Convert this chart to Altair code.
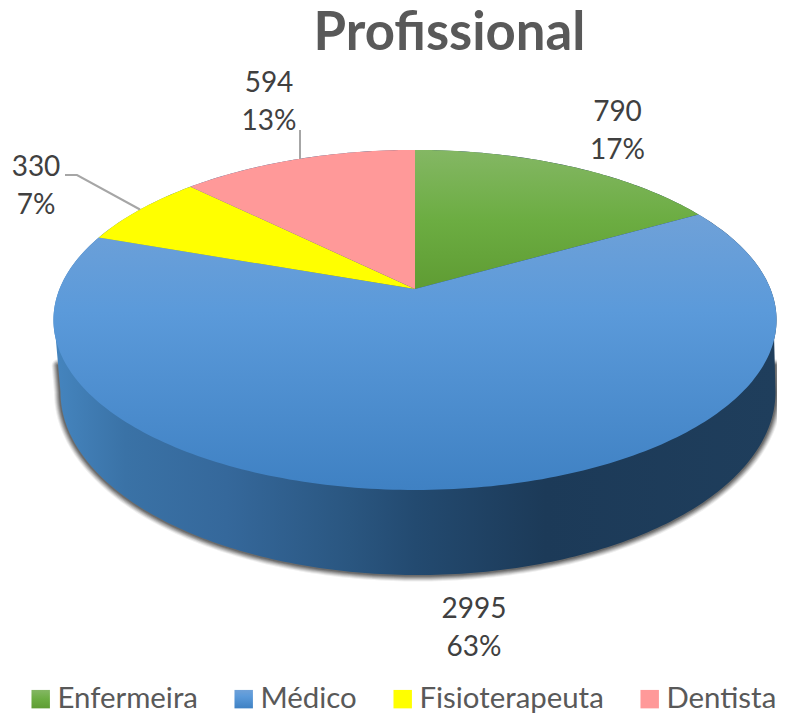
import math
import altair as alt

# ---- data ----
names = ["Enfermeira", "Médico", "Fisioterapeuta", "Dentista"]
values = [790, 2995, 330, 594]
percents = ["17%", "63%", "7%", "13%"]

# ---- styling ----
TEXT = "#404040"
FONT = "Lato"


def grad(stops, horizontal=False):
    s = ",".join("{offset:%s,color:'%s'}" % (o, c) for o, c in stops)
    return alt.expr("{gradient:'linear',x1:0,y1:0,x2:0,y2:1,stops:[%s]}" % s)


ranges = [
    grad([(0, "#84b764"), (0.5, "#6cad42"), (1, "#5f9c33")]),
    grad([(0, "#6fa1d8"), (0.35, "#5b9ada"), (1, "#3f81c3")]),
    "#ffff00",
    "#ff9999",
]
wall_fill = {
    "gradient": "linear", "x1": 0, "y1": 0, "x2": 1, "y2": 0,
    "stops": [
        {"offset": 0, "color": "#4585bf"},
        {"offset": 0.10, "color": "#3a72a6"},
        {"offset": 0.24, "color": "#35689b"},
        {"offset": 0.41, "color": "#2a5680"},
        {"offset": 0.50, "color": "#234a70"},
        {"offset": 0.68, "color": "#1c3a58"},
        {"offset": 1, "color": "#1f3e5c"},
    ],
}

# ---- tilted-disc view (perspective of the 3-D pie) ----
CX, CY, A, B, K = 415.0, 289.0, 355.5, 164.4, 0.182
BOT_CX, BOT_CY, BOT_A, BOT_B = 418.0, 392.0, 357.5, 183.0


def top_pt(frac):
    ang = 2 * math.pi * frac
    X, Y = math.sin(ang), math.cos(ang)
    d = 1 + K * Y
    return [CX + A * X / d, CY - B * Y / d]


def feature(name, kind, coords):
    return {"type": "Feature", "properties": {"name": name},
            "geometry": {"type": kind, "coordinates": coords}}


def collection(features):
    return alt.InlineData(values={"type": "FeatureCollection", "features": features},
                          format=alt.DataFormat(property="features", type="json"))


total = sum(values)
wedges = []
cum = 0.0
for n, v in zip(names, values):
    a, b = cum / total, (cum + v) / total
    steps = max(8, int((b - a) * 360))
    ring = [[CX, CY]] + [top_pt(a + (b - a) * i / steps) for i in range(steps + 1)] + [[CX, CY]]
    wedges.append(feature(n, "Polygon", [ring]))
    cum += v

bottom_curve = []
for i in range(181):
    t = math.pi * i / 180
    bottom_curve.append([BOT_CX - BOT_A * math.cos(t), BOT_CY + BOT_B * math.sin(t)])
upper_outline = [top_pt(0.297 - 0.594 * i / 200) for i in range(201)]
# wall silhouette: lower rim of the base, then back round the top disc
wall_ring = bottom_curve + upper_outline
wall_ring = wall_ring + [wall_ring[0]]


def midway(p, q):
    return [(p[0] + q[0]) / 2, (p[1] + q[1]) / 2]


shadow_line = ([midway(top_pt(0.703), bottom_curve[0])] + bottom_curve
               + [midway(top_pt(0.297), bottom_curve[-1])])

proj = dict(type="identity", scale=1, translate=[-8, -8])

layers = []
for w, op in [(13, 0.08), (11, 0.12), (9, 0.16), (7, 0.2), (5, 0.25), (3, 0.3)]:
    layers.append(
        alt.Chart(collection([feature("shadow", "LineString", shadow_line)]))
        .mark_geoshape(filled=False, stroke="#333333", strokeWidth=w, strokeOpacity=op,
                       strokeCap="round")
        .project(**proj)
    )
layers.append(
    alt.Chart(collection([feature("wall", "Polygon", [wall_ring])]))
    .mark_geoshape(fill=wall_fill, stroke=None)
    .project(**proj)
)
layers.append(
    alt.Chart(collection(wedges))
    .mark_geoshape()
    .encode(
        color=alt.Color(
            "properties.name:N",
            scale=alt.Scale(domain=names, range=ranges),
            sort=names,
            legend=alt.Legend(
                title=None, orient="none", legendX=18, legendY=676, direction="horizontal",
                columns=4, symbolType="square", symbolSize=340, symbolStrokeWidth=0,
                labelFont=FONT, labelFontSize=29.4, labelColor="#595959", labelLimit=300,
                columnPadding=31, labelOffset=2, padding=0,
            ),
        )
    )
    .project(**proj)
)
leaders = [
    feature("Fisioterapeuta", "LineString", [[65, 175], [77, 175], [140, 209.5]]),
    feature("Dentista", "LineString", [[300, 130], [300, 159]]),
]
layers.append(
    alt.Chart(collection(leaders))
    .mark_geoshape(filled=False, stroke="#a6a6a6", strokeWidth=2)
    .project(**proj)
)
label_rows = []
for n, v, p, (lx, ly1, ly2) in zip(names, values, percents,
                                   [(617.5, 121, 159), (474, 618, 656), (36, 176, 214), (269, 92, 130)]):
    label_rows.append({"t": str(v), "lx": lx, "ly": ly1})
    label_rows.append({"t": p, "lx": lx, "ly": ly2})
layers.append(
    alt.Chart(alt.Data(values=label_rows))
    .mark_text(font=FONT, fontSize=28, color=TEXT, align="center", baseline="alphabetic")
    .encode(longitude="lx:Q", latitude="ly:Q", text="t:N")
    .project(**proj)
)

chart = alt.layer(*layers).properties(
    width=769, height=706, padding=0, autosize="none", background="white",
    title=alt.TitleParams(
        "Profissional", font=FONT, fontSize=52.7, fontWeight="bold", color="#595959",
        anchor="middle", dx=57, dy=95, offset=0, baseline="alphabetic",
    ),
).configure_view(stroke=None)

chart.save("out.html", embed_options={"renderer": "svg", "actions": False})
